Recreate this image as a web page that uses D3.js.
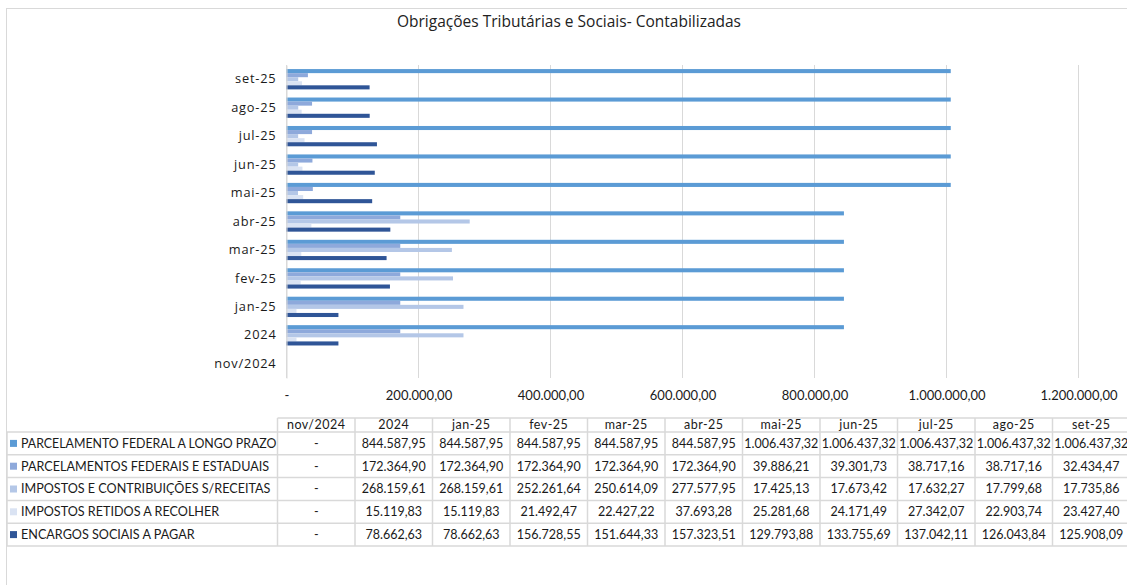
<!DOCTYPE html>
<html>
<head>
<meta charset="utf-8">
<script src="https://cdn.jsdelivr.net/npm/d3@7"></script>
<style>
  body { margin: 0; background: #fff; }
  svg { display: block; font-family: Lato, "Open Sans", sans-serif; }
</style>
</head>
<body>
<script>
const categories = ["nov/2024", "2024", "jan-25", "fev-25", "mar-25", "abr-25", "mai-25", "jun-25", "jul-25", "ago-25", "set-25"];
const seriesNames = [
  "PARCELAMENTO FEDERAL A LONGO PRAZO",
  "PARCELAMENTOS FEDERAIS E ESTADUAIS",
  "IMPOSTOS E CONTRIBUIÇÕES S/RECEITAS",
  "IMPOSTOS RETIDOS A RECOLHER",
  "ENCARGOS SOCIAIS A PAGAR"
];
const parcelamentoLongo = [null, 844587.95, 844587.95, 844587.95, 844587.95, 844587.95, 1006437.32, 1006437.32, 1006437.32, 1006437.32, 1006437.32];
const parcelamentosFedEst = [null, 172364.90, 172364.90, 172364.90, 172364.90, 172364.90, 39886.21, 39301.73, 38717.16, 38717.16, 32434.47];
const impostosReceitas = [null, 268159.61, 268159.61, 252261.64, 250614.09, 277577.95, 17425.13, 17673.42, 17632.27, 17799.68, 17735.86];
const impostosRetidos = [null, 15119.83, 15119.83, 21492.47, 22427.22, 37693.28, 25281.68, 24171.49, 27342.07, 22903.74, 23427.40];
const encargosSociais = [null, 78662.63, 78662.63, 156728.55, 151644.33, 157323.51, 129793.88, 133755.69, 137042.11, 126043.84, 125908.09];
const xTicks = [0, 200000, 400000, 600000, 800000, 1000000, 1200000];
const colors = ["#5B9BD5", "#8EA9DB", "#B4C7E7", "#DAE3F3", "#2F5597"];

const seriesValues = [parcelamentoLongo, parcelamentosFedEst, impostosReceitas, impostosRetidos, encargosSociais];

const W = 1127, H = 585;
const br = d3.formatLocale({ decimal: ",", thousands: ".", grouping: [3], currency: ["R$", ""] });
const fmt = br.format(",.2f");
const fmtCell = v => (v == null ? "-" : fmt(v));
const fmtTick = v => (v === 0 ? "-" : fmt(v));

const svg = d3.select("body").append("svg")
  .attr("width", W)
  .attr("height", H);

// moldura do gráfico
svg.append("rect")
  .attr("x", 6.5).attr("y", 8.5)
  .attr("width", W + 10).attr("height", H + 10)
  .attr("fill", "#fff")
  .attr("stroke", "#D9D9D9");

svg.append("text")
  .attr("x", 569).attr("y", 27)
  .attr("text-anchor", "middle")
  .attr("font-family", "'Open Sans', Lato, sans-serif")
  .attr("font-size", 15.5)
  .attr("fill", "#222")
  .text("Obrigações Tributárias e Sociais- Contabilizadas");

const x = d3.scaleLinear().domain([0, 1200000]).range([286.5, 1078.5]);
const y = d3.scaleBand().domain(categories.slice().reverse()).range([65, 378]);
const barPad = y.bandwidth() * 0.143;
const ySub = d3.scaleBand().domain(d3.range(seriesNames.length))
  .range([barPad, y.bandwidth() - barPad]);

// grade
svg.append("g").selectAll("line")
  .data(xTicks)
  .join("line")
  .attr("x1", d => x(d)).attr("x2", d => x(d))
  .attr("y1", 65).attr("y2", 378)
  .attr("stroke", "#D9D9D9")
  .attr("stroke-width", 1);

// barras
const groups = svg.append("g").selectAll("g")
  .data(categories)
  .join("g")
  .attr("transform", d => `translate(0,${y(d)})`);

groups.selectAll("rect")
  .data((c, ci) => seriesValues.map((vals, si) => ({ si, v: vals[ci] })).filter(d => d.v != null))
  .join("rect")
  .attr("x", x(0))
  .attr("y", d => ySub(d.si))
  .attr("width", d => x(d.v) - x(0))
  .attr("height", ySub.bandwidth())
  .attr("fill", d => colors[d.si]);

// eixo Y
const yAxis = svg.append("g")
  .attr("transform", `translate(${x(0)},0)`)
  .call(d3.axisLeft(y).tickSize(0).tickPadding(10));
yAxis.select(".domain").attr("stroke", "#D9D9D9");
yAxis.selectAll("text")
  .attr("font-family", "'Open Sans', Lato, sans-serif")
  .attr("font-size", 12.8)
  .attr("letter-spacing", "0.8px")
  .attr("fill", "#1a1a1a");

// eixo X
const xAxis = svg.append("g")
  .attr("transform", "translate(0,378)")
  .call(d3.axisBottom(x).tickValues(xTicks).tickFormat(fmtTick).tickSize(0).tickPadding(13));
xAxis.select(".domain").remove();
xAxis.selectAll("text")
  .attr("font-family", "Lato, sans-serif")
  .attr("font-size", 13)
  .attr("fill", "#1a1a1a");

// tabela de dados
const colX = d3.scaleBand().domain(categories).range([277.5, 277.5 + 77.5 * categories.length]);
const headTop = 418, headH = 14, rowH = 22.8;
const rowTop = i => headTop + headH + i * rowH;
const table = svg.append("g");
const borderColor = "#D9D9D9";

// cabeçalho
table.append("g").selectAll("text")
  .data(categories)
  .join("text")
  .attr("x", d => colX(d) + colX.bandwidth() / 2)
  .attr("y", headTop + headH / 2 + 4)
  .attr("text-anchor", "middle")
  .attr("font-size", 12.5)
  .attr("letter-spacing", "0.5px")
  .attr("fill", "#1a1a1a")
  .text(d => d);

// linhas horizontais
const tableRight = colX.range()[1];
table.append("line")
  .attr("x1", colX.range()[0]).attr("x2", tableRight)
  .attr("y1", headTop).attr("y2", headTop)
  .attr("stroke", borderColor).attr("stroke-width", 1.5);
table.append("g").selectAll("line")
  .data(d3.range(seriesNames.length + 1))
  .join("line")
  .attr("x1", 7).attr("x2", tableRight)
  .attr("y1", d => rowTop(d)).attr("y2", d => rowTop(d))
  .attr("stroke", borderColor).attr("stroke-width", 1.5);

// linhas verticais
table.append("line")
  .attr("x1", 7).attr("x2", 7)
  .attr("y1", rowTop(0)).attr("y2", rowTop(seriesNames.length))
  .attr("stroke", borderColor).attr("stroke-width", 1.5);
table.append("g").selectAll("line")
  .data(categories.concat(["end"]))
  .join("line")
  .attr("x1", (d, i) => colX.range()[0] + i * colX.step())
  .attr("x2", (d, i) => colX.range()[0] + i * colX.step())
  .attr("y1", headTop).attr("y2", rowTop(seriesNames.length))
  .attr("stroke", borderColor).attr("stroke-width", 1.5);

// rótulos das séries com legenda
const rows = table.append("g").selectAll("g")
  .data(seriesNames)
  .join("g")
  .attr("transform", (d, i) => `translate(0,${rowTop(i)})`);

rows.append("rect")
  .attr("x", 10).attr("y", rowH / 2 - 3.5)
  .attr("width", 7).attr("height", 7)
  .attr("fill", (d, i) => colors[i]);

rows.append("text")
  .attr("x", 21)
  .attr("y", rowH / 2 + 4.5)
  .attr("font-size", 12.6)
  .attr("fill", "#1a1a1a")
  .text(d => d)
  .each(function () {
    // mantém o rótulo dentro da primeira coluna
    const maxW = colX.range()[0] - 22;
    if (this.getComputedTextLength() > maxW) {
      d3.select(this).attr("textLength", maxW).attr("lengthAdjust", "spacingAndGlyphs");
    }
  });

rows.selectAll(".cell")
  .data((d, i) => categories.map((c, ci) => ({ c, v: seriesValues[i][ci] })))
  .join("text")
  .attr("class", "cell")
  .attr("x", d => colX(d.c) + colX.bandwidth() / 2)
  .attr("y", rowH / 2 + 4.5)
  .attr("text-anchor", "middle")
  .attr("font-size", 12.5)
  .attr("fill", "#1a1a1a")
  .text(d => fmtCell(d.v));
</script>
</body>
</html>
